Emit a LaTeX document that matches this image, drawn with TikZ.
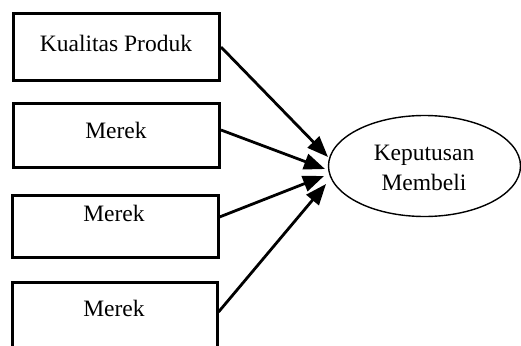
\documentclass[tikz,border=0pt]{standalone}
\usepackage{fontspec}
\setmainfont{Liberation Serif}
\usetikzlibrary{arrows.meta,shapes.geometric}
\begin{document}
\begin{tikzpicture}[x=1pt,y=-1pt,
  box/.style={draw, line width=3pt, minimum width=206pt, minimum height=#1, inner sep=0pt},
  lbl/.style={font=\fontsize{23.5}{26}\selectfont, inner sep=0pt},
  conn/.style={line width=2.8pt, -{Triangle[length=21pt,width=16pt]}},
  oval/.style={draw, line width=1.4pt, ellipse, minimum width=192pt, minimum height=101pt, inner sep=0pt}]
\useasboundingbox (0,0) rectangle (521,345);
\clip (0,0) rectangle (521,345);
\node[box=66pt] (b1) at (116.5,47) {};
\node[box=64pt] (b2) at (116.5,135) {};
\node[box=62pt] (b3) at (115,226) {};
\node[box=74pt, minimum width=205pt] (b4) at (114.5,319) {};
\node[lbl] (l1) at (116,43) {Kualitas Produk};
\node[lbl] (l2) at (116,130) {Merek};
\node[lbl] (l3) at (114,213) {Merek};
\node[lbl] (l4) at (114,308) {Merek};
\node[oval] (kp) at (424.5,166) {};
\node[lbl, align=center, font=\fontsize{23.5}{30}\selectfont] (kt) at (424,168) {Keputusan\\Membeli};
\coordinate (t1) at (328,157);
\coordinate (t2) at (325,169);
\coordinate (t3) at (324,176);
\coordinate (t4) at (326,184);
\draw[conn] (b1.east |- 0,47) -- (t1);
\draw[conn] (b2.east |- 0,130) -- (t2);
\draw[conn] (b3.east |- 0,217) -- (t3);
\draw[conn] (b4.east |- 0,312) -- (t4);
\end{tikzpicture}
\end{document}
